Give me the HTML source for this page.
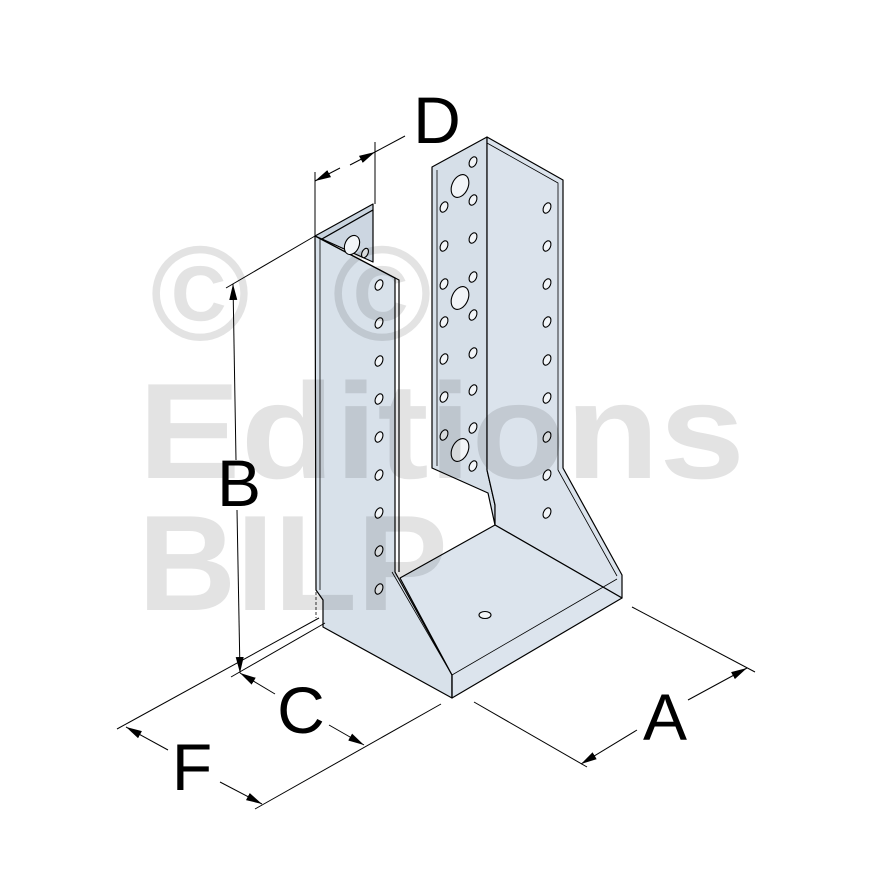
<!DOCTYPE html>
<html><head><meta charset="utf-8"><style>
html,body{margin:0;padding:0;background:#fff;}
svg{display:block;}
.h ellipse{transform-box:fill-box;transform-origin:center;transform:rotate(25deg);}
</style></head><body>
<svg width="880" height="880" viewBox="0 0 880 880" xmlns="http://www.w3.org/2000/svg">
<defs>
<marker id="ar" viewBox="0 0 16 10" refX="16" refY="5" markerWidth="16" markerHeight="10" markerUnits="userSpaceOnUse" orient="auto"><path d="M0,1 L16,5 L0,9 Z" fill="#000"/></marker>
</defs>
<g stroke="#000" stroke-width="1.2" stroke-linejoin="round" fill="#d8e1ea">
<polygon points="315,236 373,204 373,210 322,239" fill="#c9d4df"/>
<polygon points="322,239 373,210 373,262" fill="#ccd6e1"/>
<polygon points="315,236 395,278 395,572 452,675 452,698 323,627 323,600 316,590"/>
<polyline points="320,238 320,590" fill="none" stroke-width="0.8"/>
<polyline points="315,236 399,280 399,572" fill="none"/>
<polygon points="432,167 487,137 487,470 495,505 495,525 488,493 432,468" fill="#d6dfe8"/>
<polyline points="437,170 437,466" fill="none" stroke-width="0.8"/>
<polygon points="487,137 563,180 563,468 622,575 622,598 495,525 495,505 487,470" fill="#dbe3ec"/>
<polyline points="487,143 558,183 558,470 617,576" fill="none" stroke-width="0.8"/>
<polygon points="400,578 495,525 622,598 452,698 452,675" fill="#dce4ed"/>
<polyline points="392,572 452,675 617,579" fill="none" stroke-width="0.8"/>
<line x1="452" y1="675" x2="452" y2="698"/>
</g>
<line x1="316" y1="592" x2="316" y2="618" stroke="#000" stroke-width="0.8" stroke-dasharray="3,2"/>
<g class="h" fill="#f2f5f8" stroke="#000" stroke-width="1.1">
<ellipse cx="379" cy="285" rx="3.5" ry="5.5"/><ellipse cx="379" cy="323" rx="3.5" ry="5.5"/><ellipse cx="379" cy="361" rx="3.5" ry="5.5"/><ellipse cx="379" cy="399" rx="3.5" ry="5.5"/><ellipse cx="379" cy="437" rx="3.5" ry="5.5"/><ellipse cx="379" cy="475" rx="3.5" ry="5.5"/><ellipse cx="379" cy="513" rx="3.5" ry="5.5"/><ellipse cx="379" cy="551" rx="3.5" ry="5.5"/><ellipse cx="379" cy="589" rx="3.5" ry="5.5"/>
<ellipse cx="444" cy="207" rx="3.5" ry="5.5"/><ellipse cx="444" cy="246" rx="3.5" ry="5.5"/><ellipse cx="444" cy="284" rx="3.5" ry="5.5"/><ellipse cx="444" cy="322" rx="3.5" ry="5.5"/><ellipse cx="444" cy="359" rx="3.5" ry="5.5"/><ellipse cx="444" cy="397" rx="3.5" ry="5.5"/><ellipse cx="444" cy="435" rx="3.5" ry="5.5"/>
<ellipse cx="473" cy="162" rx="3.5" ry="5.5"/><ellipse cx="473" cy="200" rx="3.5" ry="5.5"/><ellipse cx="473" cy="238" rx="3.5" ry="5.5"/><ellipse cx="473" cy="277" rx="3.5" ry="5.5"/><ellipse cx="473" cy="315" rx="3.5" ry="5.5"/><ellipse cx="473" cy="353" rx="3.5" ry="5.5"/><ellipse cx="473" cy="390" rx="3.5" ry="5.5"/><ellipse cx="473" cy="428" rx="3.5" ry="5.5"/><ellipse cx="473" cy="466" rx="3.5" ry="5.5"/>
<ellipse cx="547" cy="208" rx="3.5" ry="5.5"/><ellipse cx="547" cy="246" rx="3.5" ry="5.5"/><ellipse cx="547" cy="284" rx="3.5" ry="5.5"/><ellipse cx="547" cy="322" rx="3.5" ry="5.5"/><ellipse cx="547" cy="360" rx="3.5" ry="5.5"/><ellipse cx="547" cy="398" rx="3.5" ry="5.5"/><ellipse cx="547" cy="437" rx="3.5" ry="5.5"/><ellipse cx="547" cy="475" rx="3.5" ry="5.5"/><ellipse cx="547" cy="513" rx="3.5" ry="5.5"/>
<ellipse cx="460" cy="186" rx="8" ry="12"/>
<ellipse cx="460" cy="298" rx="8" ry="12"/>
<ellipse cx="460" cy="450" rx="8" ry="12"/>
<ellipse cx="352" cy="245" rx="7" ry="10"/>
<ellipse cx="365" cy="253" rx="3" ry="5"/>
</g>
<ellipse cx="485" cy="615" rx="6" ry="3.5" fill="#f2f5f8" stroke="#000" stroke-width="1.1"/>
<g font-family="Liberation Sans, sans-serif" font-weight="bold" fill="rgba(0,0,0,0.11)">
<text x="200" y="340" font-size="135" text-anchor="middle">©</text>
<text x="382" y="340" font-size="135" text-anchor="middle">©</text>
<text x="138" y="478" font-size="136" textLength="607" lengthAdjust="spacingAndGlyphs">Editions</text>
<text x="138" y="610" font-size="136">BILP</text>
</g>
<g stroke="#000" stroke-width="1" fill="none">
<line x1="315" y1="172" x2="315" y2="236"/>
<line x1="375" y1="142" x2="375" y2="204"/>
<line x1="405" y1="136" x2="375" y2="152"/>
<line x1="340" y1="168" x2="315" y2="181" marker-end="url(#ar)"/>
<line x1="350" y1="165" x2="375" y2="152" marker-end="url(#ar)"/>
<line x1="315" y1="236" x2="226" y2="288"/>
<line x1="236" y1="460" x2="233" y2="284" marker-end="url(#ar)"/>
<line x1="237" y1="510" x2="240" y2="673" marker-end="url(#ar)"/>
<line x1="117" y1="729" x2="319" y2="618"/>
<line x1="231" y1="677" x2="325" y2="623"/>
<line x1="255" y1="809" x2="441" y2="704"/>
<line x1="168" y1="750" x2="126" y2="727" marker-end="url(#ar)"/>
<line x1="220" y1="782" x2="262" y2="804" marker-end="url(#ar)"/>
<line x1="275" y1="694" x2="240" y2="673" marker-end="url(#ar)"/>
<line x1="329" y1="725" x2="364" y2="745" marker-end="url(#ar)"/>
<line x1="474" y1="702" x2="587" y2="767"/>
<line x1="632" y1="607" x2="755" y2="672"/>
<line x1="637" y1="730" x2="581" y2="764" marker-end="url(#ar)"/>
<line x1="688" y1="700" x2="747" y2="668" marker-end="url(#ar)"/>
</g>
<g font-family="Liberation Sans, sans-serif" font-size="66" fill="#000" text-anchor="middle">
<text x="437" y="143">D</text>
<text x="239" y="506">B</text>
<text x="301" y="733">C</text>
<text x="192" y="790">F</text>
<text x="665" y="740">A</text>
</g>
</svg>
</body></html>
